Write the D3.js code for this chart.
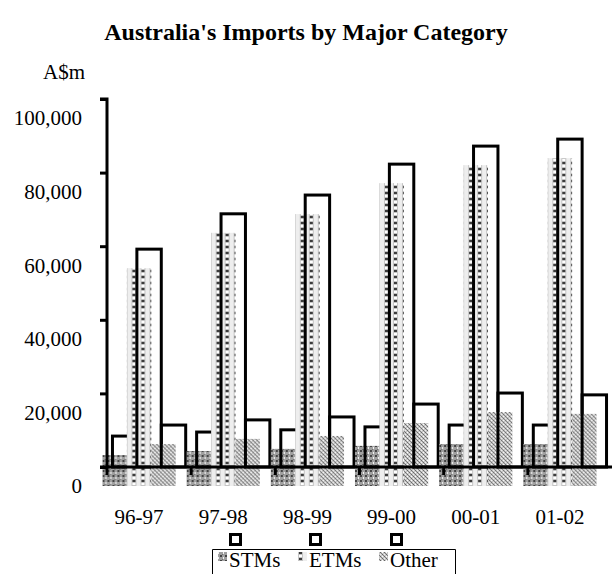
<!DOCTYPE html>
<html>
<head>
<meta charset="utf-8">
<script src="https://cdn.jsdelivr.net/npm/d3@7"></script>
<style>
  body { margin: 0; background: #fff; }
  text { font-family: "Liberation Serif", "Times New Roman", serif; fill: #000; }
</style>
</head>
<body>
<div id="main"></div>
<script>
const categories = ["96-97", "97-98", "98-99", "99-00", "00-01", "01-02"];
const seriesNames = ["STMs", "ETMs", "Other"];
const stms = [8400, 9500, 10100, 10900, 11400, 11400];
const etms = [59200, 68800, 73900, 82300, 87200, 89100];
const other = [11400, 12800, 13600, 17100, 20100, 19600];
const yTicks = [0, 20000, 40000, 60000, 80000, 100000];

class ImportsChart {
    constructor({ width = 612, height = 574 } = {}) {
        this.w = width;
        this.h = height;
        // the patterned layer is printed a little off the outline layer
        this.dx = -10;
        this.dy = 19;
        this.data = categories.map((c, i) => ({
            cat: c,
            values: [
                { s: "STMs", v: stms[i] },
                { s: "ETMs", v: etms[i] },
                { s: "Other", v: other[i] }
            ]
        }));
    }

    createSvg(selector) {
        this.svg = d3.select(selector)
            .append("svg")
            .attr("width", this.w)
            .attr("height", this.h);

        const defs = this.svg.append("defs");
        const dot = (p, x, y, w, h, c) => p.append("rect").attr("x", x).attr("y", y)
            .attr("width", w).attr("height", h).attr("fill", c);

        // STMs - dark dotted
        const p1 = defs.append("pattern").attr("id", "pSTMs")
            .attr("patternUnits", "userSpaceOnUse").attr("width", 5).attr("height", 5);
        dot(p1, 0, 0, 5, 5, "#a0a0a0");
        dot(p1, 0, 0, 2, 2, "#444");
        dot(p1, 3, 2, 1, 2, "#f4f4f4");
        dot(p1, 2, 4, 1, 1, "#707070");

        // ETMs - light vertical dotted stripes
        const p2 = defs.append("pattern").attr("id", "pETMs")
            .attr("patternUnits", "userSpaceOnUse").attr("width", 9).attr("height", 6);
        dot(p2, 0, 0, 9, 6, "#eeeeee");
        dot(p2, 1, 0, 5, 6, "#c4c4c4");
        dot(p2, 2, 0, 3, 2, "#3c3c3c");
        dot(p2, 2, 3, 3, 2, "#ffffff");

        // Other - diagonal hatch
        const p3 = defs.append("pattern").attr("id", "pOther")
            .attr("patternUnits", "userSpaceOnUse").attr("width", 4).attr("height", 4);
        dot(p3, 0, 0, 4, 4, "#c8c8c8");
        dot(p3, 0, 0, 1, 1, "#666");
        dot(p3, 1, 1, 1, 1, "#808080");
        dot(p3, 2, 2, 1, 1, "#666");
        dot(p3, 3, 3, 1, 1, "#808080");
        dot(p3, 2, 0, 1, 1, "#fff");
        dot(p3, 0, 2, 1, 1, "#f0f0f0");
    }

    drawChart() {
        const x = d3.scaleBand()
            .domain(categories)
            .range([107, 612])
            .paddingInner(0.13)
            .paddingOuter(0.065);

        const xs = d3.scaleBand()
            .domain(seriesNames)
            .range([0, x.bandwidth()]);

        const y = d3.scaleLinear()
            .domain([0, 100000])
            .range([467, 99]);

        const fillOf = { STMs: "url(#pSTMs)", ETMs: "url(#pETMs)", Other: "url(#pOther)" };

        // title
        this.svg.append("text")
            .attr("x", 306)
            .attr("y", 40)
            .attr("text-anchor", "middle")
            .style("font-size", "24px")
            .style("font-weight", "bold")
            .text("Australia's Imports by Major Category");

        // unit label
        this.svg.append("text")
            .attr("x", 43)
            .attr("y", 79)
            .style("font-size", "21px")
            .text("A$m");

        // bars: each series draws patterned copy, then its outline
        const groups = this.svg.append("g").selectAll("g")
            .data(this.data)
            .join("g")
            .attr("transform", d => `translate(${x(d.cat)},0)`);

        seriesNames.forEach(s => {
            const sel = groups.append("g");
            sel.append("rect")
                .datum(d => d.values.find(e => e.s === s))
                .attr("x", d => xs(d.s) + this.dx)
                .attr("y", d => y(d.v) + this.dy)
                .attr("width", xs.bandwidth())
                .attr("height", d => y(0) - y(d.v))
                .attr("fill", fillOf[s]);
            sel.append("rect")
                .datum(d => d.values.find(e => e.s === s))
                .attr("x", d => xs(d.s))
                .attr("y", d => y(d.v))
                .attr("width", xs.bandwidth())
                .attr("height", d => y(0) - y(d.v))
                .attr("fill", "none")
                .attr("stroke", "#000")
                .attr("stroke-width", 3);
        });

        // Y axis
        const yAxis = this.svg.append("g")
            .attr("transform", "translate(107,0)")
            .call(d3.axisLeft(y).tickValues(yTicks).tickSize(7).tickFormat(""));
        yAxis.select(".domain").attr("d", `M-7,${y(100000)}H0V${y(0) + 8}`);
        yAxis.selectAll("line,path").attr("stroke", "#000").attr("stroke-width", 3);

        // y tick labels, printed with the patterned layer
        this.svg.append("g").selectAll("text")
            .data(yTicks)
            .join("text")
            .attr("x", 82)
            .attr("y", d => y(d) + this.dy)
            .attr("dy", "0.35em")
            .attr("text-anchor", "end")
            .style("font-size", "21px")
            .text(d => d3.format(",")(d));

        // X axis
        const xAxis = this.svg.append("g")
            .attr("transform", `translate(0,${y(0)})`);
        xAxis.append("line")
            .attr("x1", 100).attr("x2", 612)
            .attr("stroke", "#000").attr("stroke-width", 3);
        xAxis.selectAll(".tk")
            .data(categories.slice(1))
            .join("line")
            .attr("class", "tk")
            .attr("x1", d => x(d) - x.step() * x.paddingInner() / 2)
            .attr("x2", d => x(d) - x.step() * x.paddingInner() / 2)
            .attr("y1", 0).attr("y2", 8)
            .attr("stroke", "#000").attr("stroke-width", 3);

        this.svg.append("g").selectAll("text")
            .data(categories)
            .join("text")
            .attr("x", d => x(d) + x.bandwidth() / 2 + this.dx)
            .attr("y", 517)
            .attr("dy", "0.35em")
            .attr("text-anchor", "middle")
            .style("font-size", "21px")
            .text(d => d);

        // legend
        const lg = this.svg.append("g");
        lg.append("path")
            .attr("d", "M212.5,580V549.5H455.5V580")
            .attr("fill", "none")
            .attr("stroke", "#000")
            .attr("stroke-width", 1);
        const items = [
            { s: "STMs", x: 218 },
            { s: "ETMs", x: 298 },
            { s: "Other", x: 379 }
        ];
        items.forEach(it => {
            lg.append("rect")
                .attr("x", it.x).attr("y", 552)
                .attr("width", 9).attr("height", 9)
                .attr("fill", fillOf[it.s]);
            lg.append("rect")
                .attr("x", it.x + 12.5).attr("y", 534.5)
                .attr("width", 10).attr("height", 10)
                .attr("fill", "none")
                .attr("stroke", "#000")
                .attr("stroke-width", 3);
            lg.append("text")
                .attr("x", it.x + 11)
                .attr("y", 567)
                .style("font-size", "21px")
                .text(it.s);
        });
    }

    run(selector) {
        this.createSvg(selector);
        this.drawChart();
    }
}

window.onload = () => {
    const app = new ImportsChart({ width: 612, height: 574 });
    app.run("#main");
};
</script>
</body>
</html>
